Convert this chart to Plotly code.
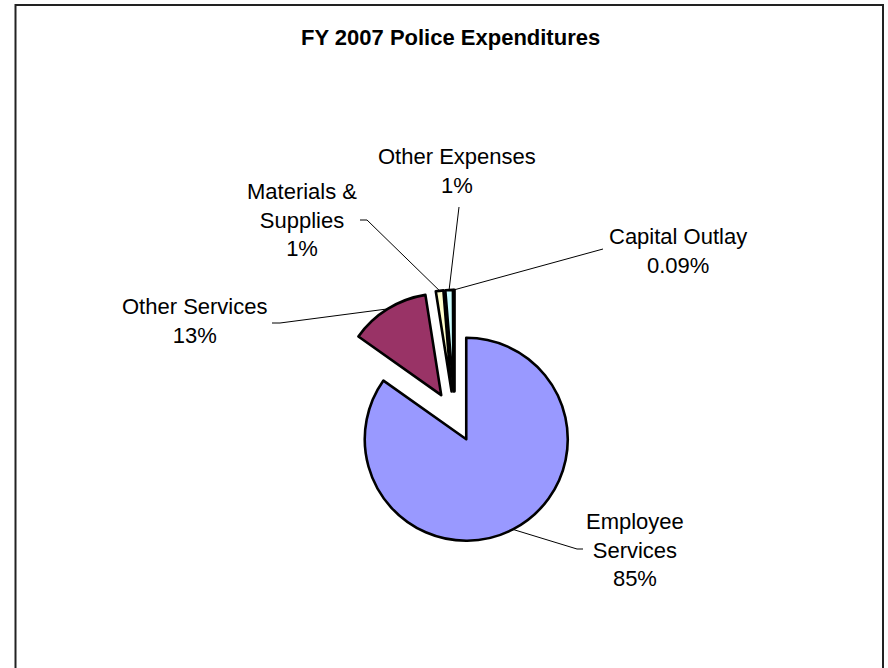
import numpy as np
import plotly.graph_objects as go

# ---- data ----
title = "FY 2007 Police Expenditures"
categories = ["Employee Services", "Other Services", "Materials & Supplies",
              "Other Expenses", "Capital Outlay"]
values = [84.8, 12.7, 1.2, 1.2, 0.09]
pct_labels = ["85%", "13%", "1%", "1%", "0.09%"]
label_text = ["Employee<br>Services", "Other Services", "Materials &<br>Supplies",
              "Other Expenses", "Capital Outlay"]
colors = ["#9999FF", "#993366", "#FFFFCC", "#CCFFFF", "#660066"]

# ---- layout constants (pixels) ----
W, H = 888, 668
CX, CY = 454.6, 416.7      # pie centre (unpulled)
R = 101.5                  # radius
PULL = 0.25
FONT = "Liberation Sans, Arial, sans-serif"
# label block centres and leader-line ends
label_pos = [(635, 550), (195, 321), (302, 220), (457, 171), (678, 251)]
leader_end = [[(577, 549), (583, 549)],
              [(280, 323), (272, 323)],
              [(367, 220), (360, 220)],
              [(459, 207)],
              [(603, 249)]]

fig = go.Figure()

half = R * (1 + PULL)
fig.add_trace(go.Pie(
    labels=categories, values=values, sort=False, direction="clockwise",
    rotation=0, pull=PULL, textinfo="none", hoverinfo="label+percent",
    marker=dict(colors=colors, line=dict(color="#000000", width=2.6)),
    domain=dict(x=[(CX - half) / W, (CX + half) / W],
                y=[(H - CY - half) / H, (H - CY + half) / H]),
    showlegend=False,
))

# leader lines computed from slice angles
vals = np.array(values, dtype=float)
frac = vals / vals.sum()
mid = (np.cumsum(frac) - frac / 2) * 2 * np.pi
for i in range(len(values)):
    ax = CX + R * (1 + PULL) * np.sin(mid[i])
    ay = CY - R * (1 + PULL) * np.cos(mid[i])
    xs = [ax] + [p[0] for p in leader_end[i]]
    ys = [ay] + [p[1] for p in leader_end[i]]
    fig.add_trace(go.Scatter(x=xs, y=ys, mode="lines",
                             line=dict(color="#000000", width=1),
                             hoverinfo="skip", showlegend=False,
                             xaxis="x", yaxis="y"))

annotations = []
for i in range(len(values)):
    annotations.append(dict(
        x=label_pos[i][0], y=label_pos[i][1], xref="x", yref="y",
        text=f"{label_text[i]}<br>{pct_labels[i]}", showarrow=False,
        align="center", xanchor="center", yanchor="middle",
        font=dict(family=FONT, size=22, color="#000000")))
annotations.append(dict(
    x=450, y=37, xref="x", yref="y", text=f"<b>{title}</b>", showarrow=False,
    xanchor="center", yanchor="middle",
    font=dict(family=FONT, size=22, color="#000000")))

fig.update_layout(
    width=W, height=H, margin=dict(l=0, r=0, t=0, b=0),
    paper_bgcolor="white", plot_bgcolor="white",
    xaxis=dict(range=[0, W], visible=False, fixedrange=True, domain=[0, 1]),
    yaxis=dict(range=[H, 0], visible=False, fixedrange=True, domain=[0, 1]),
    annotations=annotations,
    shapes=[dict(type="rect", xref="x", yref="y", x0=15.5, y0=5, x1=883, y1=720,
                 line=dict(color="#222222", width=2), fillcolor="rgba(0,0,0,0)",
                 layer="below")],
)

fig.write_html("out.html", post_script="document.body.style.margin='0';",
               config={"displayModeBar": False})
